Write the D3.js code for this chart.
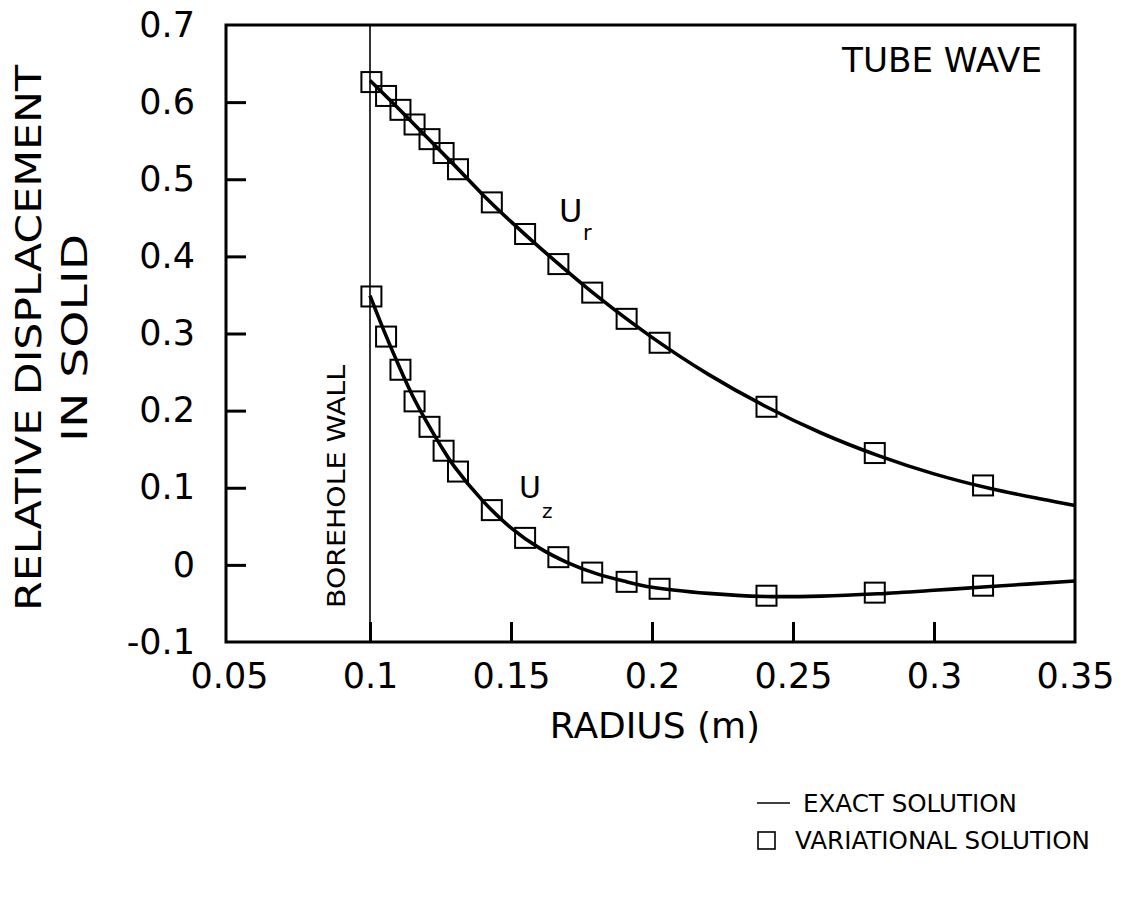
<!DOCTYPE html>
<html>
<head>
<meta charset="utf-8">
<script src="https://cdn.jsdelivr.net/npm/d3@7"></script>
<style>
  html, body { margin: 0; padding: 0; background: #fff; }
  svg { display: block; }
  text { font-family: "DejaVu Sans", "Liberation Sans", sans-serif; fill: #000; }
</style>
</head>
<body>
<svg id="chart" width="1122" height="897"></svg>
<script>
// ---- data ----
const radius = [0.1005, 0.1057, 0.1108, 0.1158, 0.1211, 0.1261, 0.1312, 0.1432, 0.155, 0.1668, 0.1788, 0.191, 0.2027, 0.2406, 0.279, 0.3174];
const urVariational = [0.626, 0.608, 0.590, 0.571, 0.552, 0.534, 0.513, 0.470, 0.429, 0.390, 0.353, 0.319, 0.288, 0.205, 0.145, 0.103];
const uzVariational = [0.348, 0.296, 0.253, 0.212, 0.179, 0.148, 0.121, 0.071, 0.035, 0.010, -0.010, -0.022, -0.031, -0.040, -0.036, -0.027];

const urExactR = [0.1, 0.11, 0.12, 0.13, 0.14, 0.15, 0.16, 0.18, 0.2, 0.22, 0.24, 0.26, 0.28, 0.3, 0.32, 0.34, 0.35];
const urExact  = [0.628, 0.592, 0.555, 0.518, 0.480, 0.445, 0.412, 0.350, 0.295, 0.247, 0.206, 0.171, 0.142, 0.118, 0.099, 0.084, 0.077];
const uzExactR = [0.1, 0.105, 0.11, 0.115, 0.12, 0.125, 0.13, 0.14, 0.15, 0.16, 0.17, 0.18, 0.19, 0.2, 0.22, 0.24, 0.26, 0.28, 0.3, 0.32, 0.35];
const uzExact  = [0.349, 0.303, 0.260, 0.220, 0.186, 0.155, 0.127, 0.083, 0.048, 0.022, 0.003, -0.011, -0.021, -0.029, -0.037, -0.041, -0.0405, -0.0375, -0.033, -0.028, -0.021];

const xTickLabels = [0.05, 0.1, 0.15, 0.2, 0.25, 0.3, 0.35];
const xTickMarks = [0.1, 0.15, 0.2, 0.25, 0.3];
const yTickLabels = [-0.1, 0, 0.1, 0.2, 0.3, 0.4, 0.5, 0.6, 0.7];
const yTickMarks = [0, 0.1, 0.2, 0.3, 0.4, 0.5, 0.6];
const boreholeR = 0.1;

// ---- drawing ----
(function () {
const svg = d3.select("#chart");
const x = d3.scaleLinear().domain([0.05, 0.35]).range([229, 1075]);
const y = d3.scaleLinear().domain([-0.1, 0.7]).range([642, 25]);
const pLeft = 226, pTop = 25, pRight = 1075, pBottom = 642;
const fmt = d => String(d);

svg.append("rect").attr("width", 1122).attr("height", 897).attr("fill", "#fff");

// frame
svg.append("rect")
  .attr("x", pLeft).attr("y", pTop)
  .attr("width", pRight - pLeft).attr("height", pBottom - pTop)
  .attr("fill", "none").attr("stroke", "#000").attr("stroke-width", 3);

// x tick marks (inward)
const gxm = svg.append("g").attr("transform", `translate(0,${pBottom})`)
  .call(d3.axisBottom(x).tickValues(xTickMarks).tickSize(-20).tickFormat(""));
gxm.select(".domain").remove();
gxm.selectAll(".tick line").attr("stroke", "#000").attr("stroke-width", 3);

// x tick labels
const gxl = svg.append("g").attr("transform", `translate(0,${pBottom})`)
  .call(d3.axisBottom(x).tickValues(xTickLabels).tickSize(0).tickPadding(21).tickFormat(fmt));
gxl.select(".domain").remove();
gxl.selectAll(".tick text").attr("font-size", 35).attr("font-family", "DejaVu Sans").attr("fill", "#000");

// y tick marks (inward)
const gym = svg.append("g").attr("transform", `translate(${pLeft},0)`)
  .call(d3.axisLeft(y).tickValues(yTickMarks).tickSize(-20).tickFormat(""));
gym.select(".domain").remove();
gym.selectAll(".tick line").attr("stroke", "#000").attr("stroke-width", 3);

// y tick labels
const gyl = svg.append("g").attr("transform", `translate(${pLeft},0)`)
  .call(d3.axisLeft(y).tickValues(yTickLabels).tickSize(0).tickPadding(31).tickFormat(fmt));
gyl.select(".domain").remove();
gyl.selectAll(".tick text").attr("font-size", 35).attr("font-family", "DejaVu Sans").attr("fill", "#000");

// borehole wall line
svg.append("line")
  .attr("x1", x(boreholeR)).attr("x2", x(boreholeR))
  .attr("y1", pTop).attr("y2", pBottom)
  .attr("stroke", "#000").attr("stroke-width", 1.6);

svg.append("text")
  .attr("transform", `translate(345,608) rotate(-90)`)
  .attr("font-size", 25)
  .attr("textLength", 243).attr("lengthAdjust", "spacingAndGlyphs")
  .text("BOREHOLE WALL");

// exact solution lines
const line = d3.line().x(d => x(d[0])).y(d => y(d[1])).curve(d3.curveCatmullRom);
svg.append("path").datum(d3.zip(urExactR, urExact))
  .attr("d", line).attr("fill", "none").attr("stroke", "#000").attr("stroke-width", 3.6);
svg.append("path").datum(d3.zip(uzExactR, uzExact))
  .attr("d", line).attr("fill", "none").attr("stroke", "#000").attr("stroke-width", 3.6);

// variational squares
const sq = 20;
function squares(vals) {
  svg.append("g").selectAll("rect").data(d3.zip(radius, vals)).join("rect")
    .attr("x", d => x(d[0]) - sq / 2).attr("y", d => y(d[1]) - sq / 2)
    .attr("width", sq).attr("height", sq)
    .attr("fill", "none").attr("stroke", "#000").attr("stroke-width", 2);
}
squares(urVariational);
squares(uzVariational);

// curve labels
svg.append("text").attr("x", 559).attr("y", 222).attr("font-size", 32).text("U");
svg.append("text").attr("x", 583).attr("y", 240).attr("font-size", 21).text("r");
svg.append("text").attr("x", 519).attr("y", 498).attr("font-size", 30).text("U");
svg.append("text").attr("x", 542).attr("y", 518).attr("font-size", 20).text("z");

// annotation
svg.append("text").attr("x", 842).attr("y", 72).attr("font-size", 34)
  .attr("textLength", 200).attr("lengthAdjust", "spacingAndGlyphs").text("TUBE WAVE");

// axis titles
svg.append("text").attr("x", 655).attr("y", 738).attr("text-anchor", "middle")
  .attr("font-size", 36).text("RADIUS (m)");
svg.append("text").attr("transform", "translate(41,338) rotate(-90)")
  .attr("text-anchor", "middle").attr("font-size", 35)
  .attr("textLength", 546).attr("lengthAdjust", "spacingAndGlyphs")
  .text("RELATIVE DISPLACEMENT");
svg.append("text").attr("transform", "translate(87,338) rotate(-90)")
  .attr("text-anchor", "middle").attr("font-size", 35)
  .attr("textLength", 208).attr("lengthAdjust", "spacingAndGlyphs")
  .text("IN SOLID");

// legend
svg.append("line").attr("x1", 757).attr("x2", 790).attr("y1", 803).attr("y2", 803)
  .attr("stroke", "#000").attr("stroke-width", 1.6);
svg.append("text").attr("x", 803).attr("y", 812).attr("font-size", 24)
  .attr("textLength", 214).attr("lengthAdjust", "spacingAndGlyphs").text("EXACT SOLUTION");
svg.append("rect").attr("x", 758).attr("y", 832).attr("width", 17).attr("height", 17)
  .attr("fill", "none").attr("stroke", "#000").attr("stroke-width", 1.6);
svg.append("text").attr("x", 795).attr("y", 849).attr("font-size", 24)
  .attr("textLength", 295).attr("lengthAdjust", "spacingAndGlyphs").text("VARIATIONAL SOLUTION");
})();
</script>
</body>
</html>
